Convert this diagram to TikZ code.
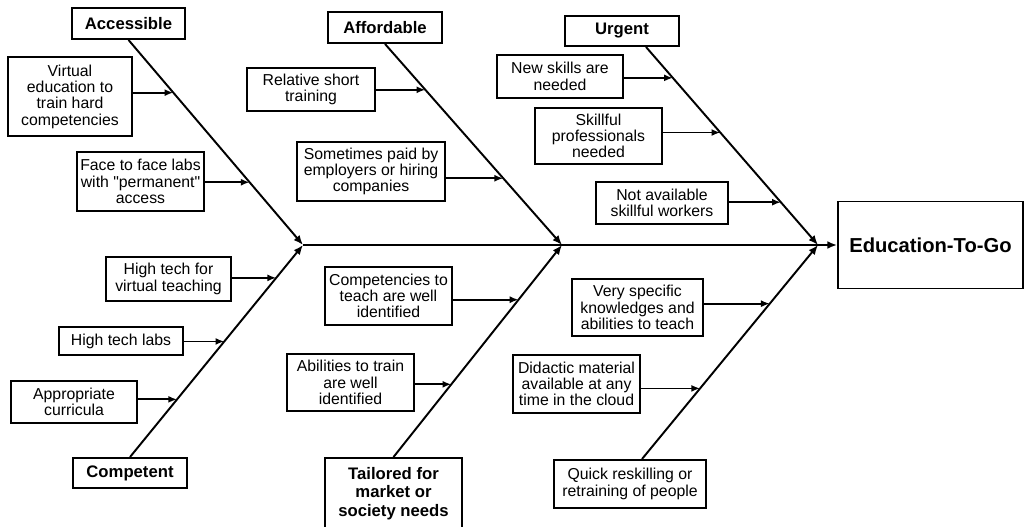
\documentclass[tikz,border=0pt]{standalone}
\usepackage{fontspec}
\setmainfont{Liberation Sans}
\usetikzlibrary{arrows.meta}

\tikzset{
	boxsize/.style 2 args={minimum width={#1*0.02cm}, minimum height={#2*0.02cm}},
	causebox/.style={draw, line width=1.1pt, align=center, inner sep=0pt, font=\fontsize{9}{9.3}\selectfont},
	headbox/.style={draw, line width=1.1pt, align=center, inner sep=0pt, font=\fontsize{9.5}{10.5}\selectfont\bfseries},
	bone/.style={line width=1.1pt, -{Latex[length=5.5pt,width=4.5pt]}},
	twig/.style={line width=1pt, -{Latex[length=5pt,width=4pt]}},
}

\begin{document}
\begin{tikzpicture}[x=0.02cm, y=-0.02cm]
	\useasboundingbox (0,0) rectangle (1025,527);

	\node[headbox, boxsize={185}{87}, font=\fontsize{11.5}{12}\selectfont\bfseries] (edu) at (930.5,245) {Education-To-Go};

	\coordinate (j1) at (303,245);
	\coordinate (j2) at (562,245);
	\coordinate (j3) at (818,245);

	\node[headbox, boxsize={113}{31}] (acc) at (128.5,23.5) {Accessible};
	\node[headbox, boxsize={114}{31}] (aff) at (385,27.5) {Affordable};
	\node[headbox, boxsize={114}{30}] (urg) at (622,31) {Urgent};
	\node[headbox, boxsize={114}{30}] (com) at (130,473) {Competent};
	\node[headbox, boxsize={137}{71}] (tai) at (393.5,493.5) {Tailored for\\market or\\society needs};
	\node[causebox, boxsize={152}{48}] (qrk) at (630,484) {Quick reskilling or\\retraining of people};
	\coordinate (urg-s) at ([xshift=0.48cm]urg.south);
	\coordinate (qrk-n) at ([xshift=0.24cm]qrk.north);

	% spine and bones
	\draw[bone] (j1) -- (edu.west);
	\draw[bone] (acc.south) -- (j1);
	\draw[bone] (com.north) -- (j1);
	\draw[bone] (aff.south) -- (j2);
	\draw[bone] (tai.north) -- (j2);
	\draw[bone] (urg-s) -- (j3);
	\draw[bone] (qrk-n) -- (j3);

	\path (acc.south) -- (j1) coordinate[pos=0.257] (acc1-p) coordinate[pos=0.694] (acc2-p);
	\path (com.north) -- (j1) coordinate[pos=0.845] (com1-p) coordinate[pos=0.545] (com2-p) coordinate[pos=0.272] (com3-p);
	\path (aff.south) -- (j2) coordinate[pos=0.228] (aff1-p) coordinate[pos=0.668] (aff2-p);
	\path (tai.north) -- (j2) coordinate[pos=0.742] (tai1-p) coordinate[pos=0.343] (tai2-p);
	\path (urg-s) -- (j3) coordinate[pos=0.156] (urg1-p) coordinate[pos=0.432] (urg2-p) coordinate[pos=0.784] (urg3-p);
	\path (qrk-n) -- (j3) coordinate[pos=0.726] (qrk1-p) coordinate[pos=0.330] (qrk2-p);

	% causes
	\node[causebox, boxsize={124}{79}] (acc1) at (70,96.5) {Virtual\\education to\\train hard\\competencies};
	\node[causebox, boxsize={127}{59}] (acc2) at (140.5,181.5) {Face to face labs\\with \textquotedbl permanent\textquotedbl\\access};
	\node[causebox, boxsize={125}{44}] (com1) at (168.5,279) {High tech for\\virtual teaching};
	\node[causebox, boxsize={124}{28}] (com2) at (121,341) {High tech labs};
	\node[causebox, boxsize={126}{42}] (com3) at (74,402) {Appropriate\\curricula};
	\node[causebox, boxsize={128}{43}] (aff1) at (311,89.5) {Relative short\\training};
	\node[causebox, boxsize={148}{59}] (aff2) at (371,171.5) {Sometimes paid by\\employers or hiring\\companies};
	\node[causebox, boxsize={127}{58}] (tai1) at (388.5,296) {Competencies to\\teach are well\\identified};
	\node[causebox, boxsize={127}{57}] (tai2) at (350.5,382.5) {Abilities to train\\are well\\identified};
	\node[causebox, boxsize={126}{43}] (urg1) at (560,76.5) {New skills are\\needed};
	\node[causebox, boxsize={127}{56}] (urg2) at (598.5,136) {Skillful\\professionals\\needed};
	\node[causebox, boxsize={132}{42}] (urg3) at (662,203) {Not available\\skillful workers};
	\node[causebox, boxsize={131}{57}] (qrk1) at (637.5,307.5) {Very specific\\knowledges and\\abilities to teach};
	\node[causebox, boxsize={127}{58}] (qrk2) at (576.5,384) {Didactic material\\available at any\\time in the cloud};

	\foreach \c in {acc1,acc2,com1,com2,com3,aff1,aff2,tai1,tai2,urg1,urg2,urg3,qrk1,qrk2}
	{
		\draw[twig] (\c.east |- \c-p) -- (\c-p);
	}
\end{tikzpicture}
\end{document}
